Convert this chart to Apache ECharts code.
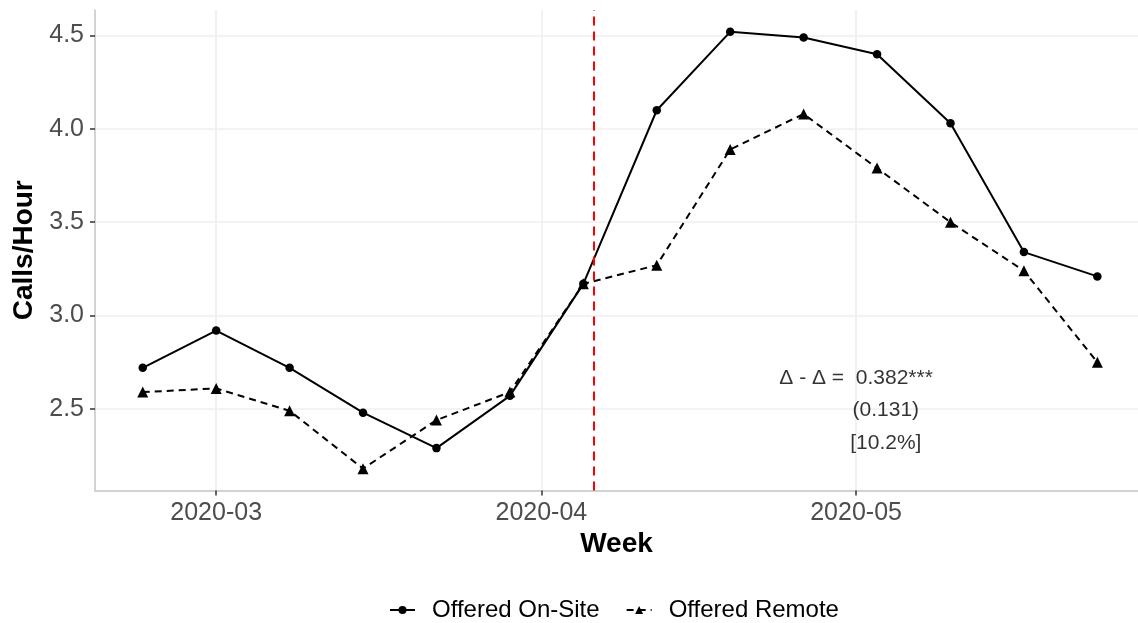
<!DOCTYPE html>
<html>
<head>
<meta charset="utf-8">
<script src="https://cdn.jsdelivr.net/npm/echarts@6/dist/echarts.min.js"></script>
<style>
  html, body { margin: 0; padding: 0; background: #fff; }
  #chart { width: 1138px; height: 623px; }
</style>
</head>
<body>
<div id="chart"></div>
<script>
// Weekly call rates, by offer type
const weeks = ['2020-02-23', '2020-03-01', '2020-03-08', '2020-03-15', '2020-03-22', '2020-03-29',
  '2020-04-05', '2020-04-12', '2020-04-19', '2020-04-26', '2020-05-03', '2020-05-10',
  '2020-05-17', '2020-05-24'];
const onSite = [2.72, 2.92, 2.72, 2.48, 2.29, 2.57, 3.17, 4.10, 4.52, 4.49, 4.40, 4.03, 3.34, 3.21];
const remote = [2.59, 2.61, 2.49, 2.18, 2.44, 2.59, 3.17, 3.27, 3.89, 4.08, 3.79, 3.50, 3.24, 2.75];

const seriesNames = ['Offered On-Site', 'Offered Remote'];
const xTicks = ['2020-03-01', '2020-04-01', '2020-05-01'];
const yTicks = [2.5, 3.0, 3.5, 4.0, 4.5];
const policyDate = '2020-04-06';

// Difference-in-differences note, one line per entry
const noteLines = ['Δ - Δ =  0.382***', '(0.131)', '[10.2%]'];
const noteAnchors = [['2020-05-01T00:00', 2.667], ['2020-05-03T20:00', 2.493], ['2020-05-03T20:00', 2.318]];

// Axis ranges: padded on the left, cut at the right edge of the canvas
const xMin = new Date(2020, 1, 18, 10, 48).getTime();
const xMax = new Date(2020, 4, 27, 21, 0).getTime();
const yMin = 2.063, yMax = 4.637;

const toTime = s => echarts.time.parse(s).getTime();

const chart = echarts.init(document.getElementById('chart'), null, { renderer: 'canvas' });

const gridLine = { show: true, lineStyle: { color: '#efefef', width: 1.5 } };
const axisLine = { show: true, lineStyle: { color: '#c4c4c4', width: 1.5 } };
const tick = { show: true, length: 5, lineStyle: { color: '#333', width: 1.5 } };

chart.setOption({
  animation: false,
  backgroundColor: '#ffffff',
  textStyle: { fontFamily: 'Liberation Sans, Arial, sans-serif' },
  grid: { left: 95, right: 0, top: 10, bottom: 132.5 },
  xAxis: {
    type: 'time',
    min: xMin,
    max: xMax,
    name: 'Week',
    nameLocation: 'middle',
    nameGap: 38,
    nameTextStyle: { fontSize: 28, fontWeight: 'bold', color: '#000' },
    axisLine: axisLine,
    axisTick: Object.assign({}, tick, { customValues: xTicks.map(toTime) }),
    splitLine: gridLine,
    axisLabel: {
      customValues: xTicks.map(toTime),
      formatter: '{yyyy}-{MM}',
      fontSize: 25,
      color: '#4d4d4d',
      margin: 10
    }
  },
  yAxis: {
    type: 'value',
    min: yMin,
    max: yMax,
    name: 'Calls/Hour',
    nameLocation: 'middle',
    nameGap: 53,
    nameTextStyle: { fontSize: 28, fontWeight: 'bold', color: '#000' },
    axisLine: axisLine,
    axisTick: Object.assign({}, tick, { customValues: yTicks }),
    splitLine: gridLine,
    axisLabel: {
      customValues: yTicks,
      formatter: v => v.toFixed(1),
      fontSize: 25,
      color: '#4d4d4d',
      margin: 11
    }
  },
  legend: {
    left: 384,
    top: 593,
    itemWidth: 25,
    itemHeight: 10,
    itemGap: 26,
    textStyle: { fontSize: 24, color: '#000', padding: [0, 0, 0, 12] },
    data: seriesNames
  },
  series: [
    {
      name: seriesNames[0],
      type: 'line',
      data: weeks.map((w, i) => [w, onSite[i]]),
      symbol: 'circle',
      symbolSize: 8.5,
      itemStyle: { color: '#000' },
      lineStyle: { color: '#000', width: 2, type: 'solid' },
      z: 3,
      markLine: {
        silent: true,
        symbol: 'none',
        label: { show: false },
        lineStyle: { color: '#ff0000', width: 2, type: [9, 6] },
        data: [{ xAxis: toTime(policyDate) }]
      }
    },
    {
      name: seriesNames[1],
      type: 'line',
      data: weeks.map((w, i) => [w, remote[i]]),
      symbol: 'triangle',
      symbolSize: 11,
      itemStyle: { color: '#000' },
      lineStyle: { color: '#000', width: 2, type: [7, 5] },
      z: 3
    },
    {
      name: 'note',
      type: 'scatter',
      silent: true,
      symbolSize: 0,
      data: noteAnchors.map((a, i) => ({ value: [toTime(a[0]), a[1]], text: noteLines[i] })),
      label: {
        show: true,
        position: 'inside',
        align: 'center',
        verticalAlign: 'middle',
        fontSize: 21,
        color: '#000',
        formatter: p => p.data.text
      }
    }
  ]
});
</script>
</body>
</html>
